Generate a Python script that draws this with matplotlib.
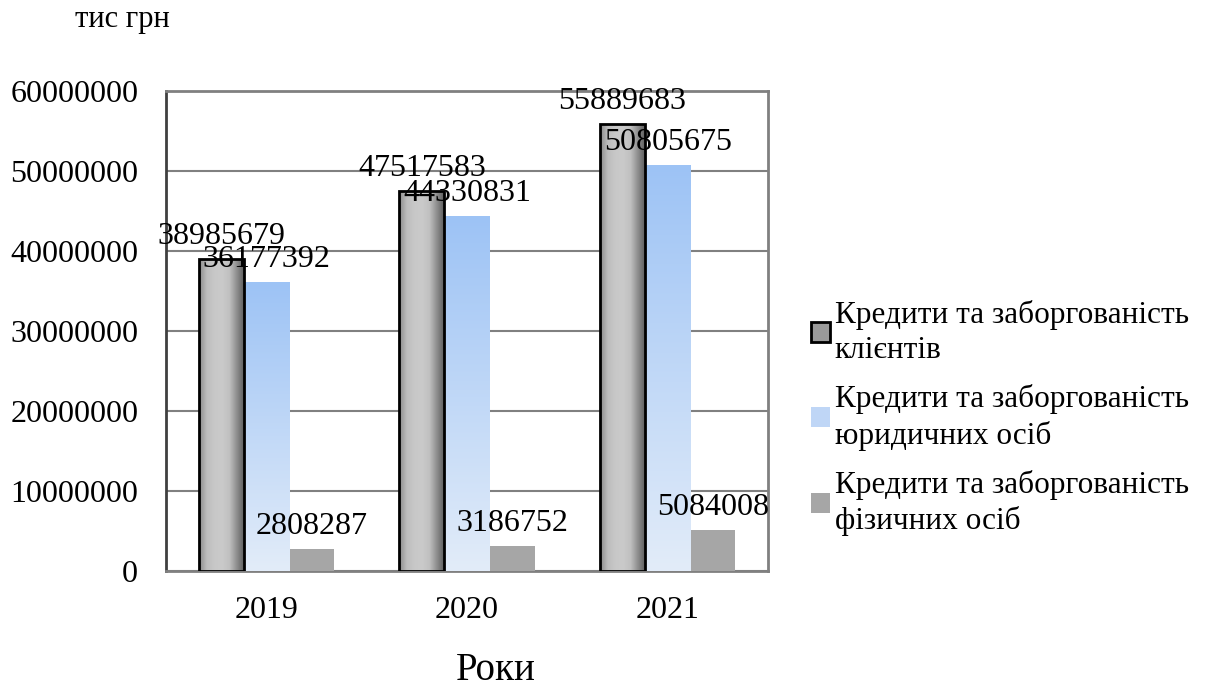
import matplotlib
matplotlib.use("Agg")
import matplotlib.pyplot as plt
import numpy as np
from matplotlib.patches import Patch
from matplotlib.colors import LinearSegmentedColormap

plt.rcParams['font.family'] = ['Liberation Serif', 'DejaVu Serif']

years = ["2019", "2020", "2021"]
clients = [38985679, 47517583, 55889683]
legal = [36177392, 44330831, 50805675]
individuals = [2808287, 3186752, 5084008]
series_labels = ["Кредити та заборгованість\nклієнтів",
                 "Кредити та заборгованість\nюридичних осіб",
                 "Кредити та заборгованість\nфізичних осіб"]
y_ticks = [0, 10000000, 20000000, 30000000, 40000000, 50000000, 60000000]

fig = plt.figure(figsize=(12.12, 6.9), dpi=100)
ax = fig.add_axes([166/1212, 1-571/690, (768-166)/1212, (571-91)/690])

x = np.arange(len(years))
w = 0.225
FS = 23

b1 = ax.bar(x - w, clients, w, facecolor='none', edgecolor='black', linewidth=2, zorder=4)
b2 = ax.bar(x, legal, w, facecolor='none', edgecolor='none', zorder=3)
b3 = ax.bar(x + w, individuals, w, color='#A6A6A6', zorder=3)

gray_cmap = LinearSegmentedColormap.from_list('g', ['#8A8A8A', '#BDBDBD', '#C8C8C8', '#CACACA', '#C0C0C0', '#8C8C8C', '#5A5A5A'])
blue_cmap = LinearSegmentedColormap.from_list('b', ['#E2ECF9', '#9DC3F5'])

for b in b1:
    x0, wd, h = b.get_x(), b.get_width(), b.get_height()
    grad = np.linspace(0, 1, 200).reshape(1, -1)
    im = ax.imshow(grad, cmap=gray_cmap, extent=[x0, x0 + wd, 0, h], aspect='auto', zorder=3)
    im.set_clip_path(b)
for b in b2:
    x0, wd, h = b.get_x(), b.get_width(), b.get_height()
    grad = np.linspace(0, 1, 200).reshape(-1, 1)
    im = ax.imshow(grad, cmap=blue_cmap, extent=[x0, x0 + wd, 0, h], aspect='auto', origin='lower', zorder=3)
    im.set_clip_path(b)

for bars in (b1, b2, b3):
    for b in bars:
        ax.annotate(f"{int(b.get_height())}", (b.get_x() + b.get_width()/2, b.get_height()),
                    xytext=(0, 15), textcoords='offset pixels', ha='center', va='baseline',
                    fontsize=FS, zorder=6, annotation_clip=False)

ax.set_xlim(-0.5, 2.5)
ax.set_ylim(0, 60000000)
ax.set_yticks(y_ticks)
ax.set_yticklabels([str(v) for v in y_ticks], fontsize=FS)
ax.set_xticks(x)
ax.set_xticklabels(years, fontsize=FS)
ax.tick_params(axis='y', length=0, pad=20)
ax.tick_params(axis='x', length=0, pad=18)
ax.yaxis.grid(True, color='#808080', linewidth=1.5, zorder=0)
ax.set_axisbelow(True)
for s in ax.spines.values():
    s.set_color('#808080')
    s.set_linewidth(2)
ax.spines['left'].set_color('#404040')

fig.text(496/1212, 1-671/690, "Роки", fontsize=28, ha='center', va='center')
fig.text(122/1212, 1-20/690, "тис грн", fontsize=22, ha='center', va='center')

handles = [Patch(facecolor='#9A9A9A', edgecolor='black', linewidth=2),
           Patch(facecolor='#BFD6F6', edgecolor='none'),
           Patch(facecolor='#A6A6A6', edgecolor='none')]
leg = fig.legend(handles, series_labels, loc='upper left', bbox_to_anchor=(798/1212, 1-287/690),
                 frameon=False, fontsize=22.5, handlelength=0.62, handleheight=0.62, handletextpad=0.15,
                 labelspacing=0.6, borderaxespad=0)
for t in leg.get_texts():
    t.set_linespacing(1.3)

fig.savefig("out.png", dpi=100)
